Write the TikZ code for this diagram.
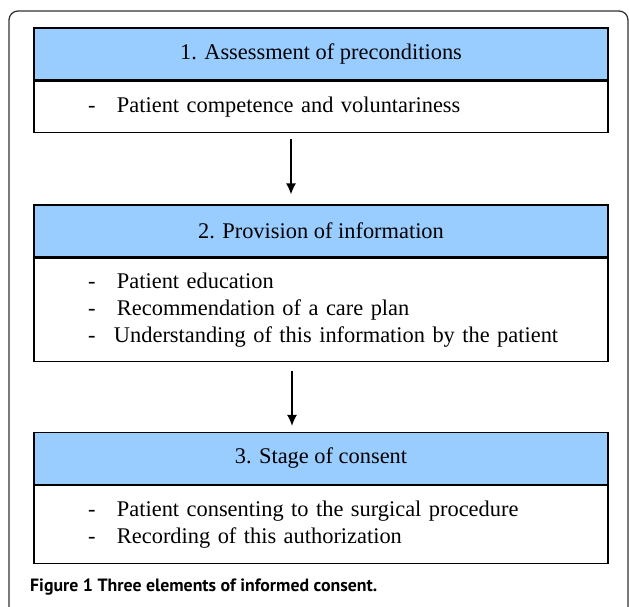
\documentclass[tikz,border=0pt]{standalone}
\usepackage{fontspec}
\setmainfont{Liberation Serif}
\newfontfamily\capfont{PT Sans}
\usetikzlibrary{positioning,arrows.meta}
\definecolor{headblue}{RGB}{153,204,255}
\newcommand{\itm}[2][29pt]{\hspace*{53pt}\makebox[#1][l]{-}#2}

\begin{document}
\begin{tikzpicture}[x=1pt,y=-1pt]
		\tikzset{head/.style = {draw, line width=1.2pt, fill=headblue, minimum width=574pt, minimum height=52pt, inner sep=0pt, font=\fontsize{22.4}{27}\selectfont}}
		\tikzset{body/.style = {draw, line width=1.2pt, minimum width=574pt, inner xsep=0pt, inner ysep=0pt, text width=572pt, align=left, font=\fontsize{22.4}{27}\selectfont}}
		\tikzset{step arrow/.style = {-{Latex[length=11pt,width=10pt]}, line width=1.4pt}}

		\useasboundingbox (0,0) rectangle (629,607);

		% outer frame
		\draw[line width=1.3pt, black!80, rounded corners=9pt] (9,615) -- (9,11) -- (628,11) -- (628,615);

		% stage 1
		\node[head] (h1) at (321,54) {1. Assessment of preconditions};
		\node[body, minimum height=51pt, below=0pt of h1] (b1) {\itm{Patient competence and voluntariness}};

		% stage 2
		\node[head] (h2) at (321,231) {2. Provision of information};
		\node[body, minimum height=103pt, below=0pt of h2] (b2) {\itm{Patient education}\\ \itm{Recommendation of a care plan}\\ \itm[26pt]{Understanding of this information by the patient}\\[-5pt]};

		% stage 3
		\node[head] (h3) at (321,458.5) {3. Stage of consent};
		\node[body, minimum height=78pt, below=0pt of h3] (b3) {\itm{Patient consenting to the surgical procedure}\\ \itm{Recording of this authorization}\\[2pt]};

		% arrows
		\draw[step arrow] ([xshift=-30pt,yshift=-6pt]b1.south) -- ([xshift=-30pt,yshift=10pt]h2.north);
		\draw[step arrow] ([xshift=-29pt,yshift=-9pt]b2.south) -- ([xshift=-29pt,yshift=6pt]h3.north);

		% caption
		\node[anchor=base west, inner sep=0pt, font=\capfont\bfseries\fontsize{17.8}{20}\selectfont] (cap) at (30,591) {Figure 1 Three elements of informed consent.};
	\end{tikzpicture}
\end{document}
